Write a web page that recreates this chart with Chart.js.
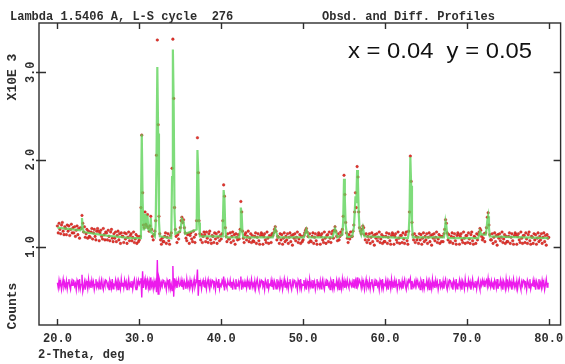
<!DOCTYPE html>
<html lang="en">
<head>
<meta charset="UTF-8">
<title>Obsd. and Diff. Profiles</title>
<script src="https://cdn.jsdelivr.net/npm/chart.js"></script>
<style>
    html, body { margin: 0; padding: 0; background: #fff; }
    #wrap { width: 565px; height: 364px; }
</style>
</head>
<body>
<div id="wrap"><canvas id="profileChart" width="565" height="364"></canvas></div>

<script>
    // 2-theta grid of the observed / difference points
    const thetaStart = 20.0;
    const thetaStep = 0.1;

    // observed counts (x10^3), one row per degree
    const obsCounts = [
        1.24,1.16,1.27,1.20,1.15,1.25,1.28,1.18,1.14,1.23,
        1.21,1.14,1.25,1.18,1.24,1.13,1.20,1.26,1.16,1.22,
        1.16,1.23,1.12,1.19,1.24,1.14,1.21,1.10,1.22,1.21,
        1.36,1.27,1.17,1.23,1.11,1.15,1.20,1.10,1.18,1.12,
        1.11,1.17,1.21,1.09,1.16,1.20,1.12,1.08,1.18,1.21,
        1.18,1.07,1.16,1.19,1.12,1.09,1.21,1.14,1.08,1.17,
        1.16,1.08,1.19,1.12,1.07,1.17,1.20,1.10,1.06,1.15,
        1.10,1.17,1.06,1.13,1.18,1.08,1.15,1.04,1.16,1.12,
        1.12,1.05,1.16,1.09,1.15,1.04,1.11,1.17,1.07,1.13,
        1.15,1.07,1.11,1.17,1.05,1.09,1.14,1.04,1.12,1.06,
        1.08,1.12,1.45,2.28,1.62,1.25,1.22,1.40,1.26,1.24,
        1.37,1.22,1.18,1.24,1.35,1.20,1.12,1.08,1.14,1.18,
        1.30,2.05,3.37,2.40,1.35,1.15,1.08,1.03,1.10,1.06,
        1.06,1.12,1.16,1.04,1.11,1.15,1.07,1.03,1.13,1.16,
        1.90,3.38,2.70,1.45,1.20,1.12,1.05,1.14,1.09,1.17,
        1.22,1.30,1.34,1.28,1.31,1.22,1.16,1.10,1.07,1.14,
        1.15,1.04,1.13,1.16,1.09,1.06,1.18,1.11,1.05,1.14,
        1.30,2.25,1.85,1.30,1.15,1.08,1.14,1.05,1.12,1.17,
        1.14,1.06,1.17,1.10,1.05,1.15,1.18,1.08,1.04,1.13,
        1.12,1.05,1.16,1.09,1.15,1.04,1.11,1.17,1.07,1.13,
        1.09,1.15,1.30,1.71,1.58,1.22,1.12,1.06,1.15,1.09,
        1.09,1.16,1.05,1.12,1.17,1.07,1.14,1.03,1.15,1.11,
        1.08,1.14,1.09,1.20,1.52,1.40,1.18,1.10,1.05,1.14,
        1.16,1.08,1.12,1.18,1.06,1.10,1.15,1.05,1.13,1.07,
        1.06,1.12,1.16,1.04,1.11,1.15,1.07,1.03,1.13,1.16,
        1.14,1.03,1.12,1.15,1.08,1.05,1.17,1.10,1.04,1.13,
        1.12,1.05,1.15,1.13,1.16,1.20,1.23,1.18,1.08,1.12,
        1.11,1.04,1.15,1.08,1.14,1.03,1.10,1.16,1.06,1.12,
        1.08,1.15,1.04,1.11,1.16,1.06,1.13,1.02,1.14,1.10,
        1.15,1.07,1.11,1.17,1.05,1.09,1.14,1.04,1.12,1.06,
        1.08,1.13,1.16,1.19,1.21,1.17,1.12,1.05,1.15,1.07,
        1.06,1.12,1.16,1.04,1.11,1.15,1.07,1.03,1.13,1.16,
        1.14,1.03,1.12,1.15,1.08,1.05,1.17,1.10,1.04,1.13,
        1.14,1.06,1.17,1.10,1.05,1.15,1.18,1.10,1.19,1.23,
        1.18,1.12,1.07,1.15,1.08,1.12,1.17,1.14,1.20,1.35,
        1.82,1.60,1.28,1.16,1.10,1.05,1.14,1.09,1.17,1.12,
        1.12,1.18,1.25,1.40,1.62,1.45,1.92,1.80,1.40,1.22,
        1.18,1.15,1.20,1.24,1.22,1.14,1.08,1.15,1.05,1.12,
        1.08,1.15,1.04,1.11,1.16,1.06,1.13,1.02,1.14,1.10,
        1.15,1.07,1.11,1.17,1.05,1.09,1.14,1.04,1.12,1.06,
        1.06,1.12,1.16,1.04,1.11,1.15,1.07,1.03,1.13,1.16,
        1.14,1.03,1.12,1.15,1.08,1.05,1.17,1.10,1.04,1.13,
        1.13,1.05,1.16,1.09,1.04,1.14,1.17,1.07,1.03,1.18,
        1.40,2.04,1.75,1.28,1.14,1.08,1.15,1.05,1.12,1.08,
        1.11,1.04,1.15,1.08,1.14,1.03,1.10,1.16,1.06,1.12,
        1.08,1.15,1.04,1.11,1.16,1.06,1.13,1.02,1.14,1.10,
        1.15,1.07,1.11,1.17,1.05,1.09,1.14,1.04,1.12,1.06,
        1.12,1.06,1.15,1.20,1.31,1.27,1.16,1.08,1.14,1.05,
        1.06,1.12,1.16,1.04,1.11,1.15,1.07,1.03,1.13,1.16,
        1.14,1.03,1.12,1.15,1.08,1.05,1.17,1.10,1.04,1.13,
        1.13,1.05,1.16,1.09,1.04,1.14,1.17,1.07,1.03,1.12,
        1.11,1.04,1.15,1.08,1.14,1.17,1.21,1.19,1.12,1.08,
        1.10,1.15,1.06,1.16,1.22,1.34,1.39,1.25,1.14,1.08,
        1.08,1.15,1.04,1.11,1.16,1.06,1.13,1.02,1.14,1.10,
        1.15,1.07,1.11,1.17,1.05,1.09,1.14,1.04,1.12,1.06,
        1.06,1.12,1.16,1.04,1.11,1.15,1.07,1.03,1.13,1.16,
        1.14,1.03,1.12,1.15,1.08,1.05,1.17,1.10,1.04,1.13,
        1.13,1.05,1.16,1.09,1.04,1.14,1.17,1.07,1.03,1.12,
        1.11,1.04,1.15,1.08,1.14,1.03,1.10,1.16,1.06,1.12,
        1.08,1.15,1.04,1.11,1.16,1.06,1.13,1.02,1.14,1.10,
        1.11
    ];

    // difference curve as plotted (x10^3), same grid
    const diffCounts = [
        .59,.53,.62,.56,.60,.51,.57,.63,.54,.58,
        .54,.61,.52,.59,.63,.55,.51,.60,.56,.62,
        .61,.55,.58,.51,.62,.59,.53,.63,.52,.57,
        .68,.49,.54,.60,.51,.61,.58,.52,.63,.55,
        .59,.53,.62,.56,.60,.51,.57,.63,.54,.58,
        .54,.61,.52,.59,.63,.55,.51,.60,.56,.62,
        .61,.55,.58,.51,.62,.59,.53,.63,.52,.57,
        .56,.62,.54,.60,.51,.61,.58,.52,.63,.55,
        .59,.53,.62,.56,.60,.51,.57,.63,.54,.58,
        .54,.61,.52,.59,.63,.55,.51,.60,.56,.62,
        .57,.60,.64,.42,.72,.53,.60,.64,.51,.57,
        .62,.53,.60,.50,.65,.55,.59,.52,.61,.56,
        .60,.48,.85,.46,.65,.61,.53,.59,.55,.62,
        .61,.55,.58,.51,.62,.59,.53,.63,.52,.57,
        .50,.78,.43,.64,.56,.61,.53,.59,.63,.55,
        .56,.62,.54,.60,.51,.61,.58,.52,.63,.55,
        .59,.53,.62,.56,.60,.51,.57,.63,.54,.58,
        .60,.74,.44,.62,.55,.60,.52,.59,.62,.55,
        .54,.61,.52,.59,.63,.55,.51,.60,.56,.62,
        .61,.55,.58,.51,.62,.59,.53,.63,.52,.57,
        .55,.61,.58,.66,.50,.60,.56,.53,.61,.57,
        .56,.62,.54,.60,.51,.61,.58,.52,.63,.55,
        .55,.60,.54,.61,.66,.51,.59,.55,.60,.54,
        .59,.53,.62,.56,.60,.51,.57,.63,.54,.58,
        .54,.61,.52,.59,.63,.55,.51,.60,.56,.62,
        .61,.55,.58,.51,.62,.59,.53,.63,.52,.57,
        .56,.62,.54,.60,.51,.61,.58,.52,.63,.55,
        .59,.53,.62,.56,.60,.51,.57,.63,.54,.58,
        .54,.61,.52,.59,.63,.55,.51,.60,.56,.62,
        .61,.55,.58,.51,.62,.59,.53,.63,.52,.57,
        .56,.62,.54,.60,.51,.61,.58,.52,.63,.55,
        .59,.53,.62,.56,.60,.51,.57,.63,.54,.58,
        .54,.61,.52,.59,.63,.55,.51,.60,.56,.62,
        .61,.55,.58,.51,.62,.59,.53,.63,.52,.57,
        .56,.62,.54,.60,.51,.61,.58,.52,.63,.55,
        .61,.53,.60,.55,.62,.56,.53,.61,.58,.55,
        .60,.54,.63,.56,.61,.52,.65,.55,.58,.62,
        .59,.53,.62,.56,.60,.51,.57,.63,.54,.58,
        .54,.61,.52,.59,.63,.55,.51,.60,.56,.62,
        .61,.55,.58,.51,.62,.59,.53,.63,.52,.57,
        .56,.62,.54,.60,.51,.61,.58,.52,.63,.55,
        .59,.53,.62,.56,.60,.51,.57,.63,.54,.58,
        .54,.61,.52,.59,.63,.55,.51,.60,.56,.62,
        .60,.64,.52,.61,.56,.54,.60,.55,.62,.57,
        .61,.55,.58,.51,.62,.59,.53,.63,.52,.57,
        .56,.62,.54,.60,.51,.61,.58,.52,.63,.55,
        .59,.53,.62,.56,.60,.51,.57,.63,.54,.58,
        .54,.61,.52,.59,.63,.55,.51,.60,.56,.62,
        .61,.55,.58,.51,.62,.59,.53,.63,.52,.57,
        .56,.62,.54,.60,.51,.61,.58,.52,.63,.55,
        .59,.53,.62,.56,.60,.51,.57,.63,.54,.58,
        .54,.61,.52,.59,.63,.55,.51,.60,.56,.62,
        .57,.61,.54,.60,.62,.55,.64,.56,.59,.54,
        .61,.55,.58,.51,.62,.59,.53,.63,.52,.57,
        .56,.62,.54,.60,.51,.61,.58,.52,.63,.55,
        .59,.53,.62,.56,.60,.51,.57,.63,.54,.58,
        .54,.61,.52,.59,.63,.55,.51,.60,.56,.62,
        .61,.55,.58,.51,.62,.59,.53,.63,.52,.57,
        .56,.62,.54,.60,.51,.61,.58,.52,.63,.55,
        .59,.53,.62,.56,.60,.51,.57,.63,.54,.58,
        .58
    ];

    // calculated profile [2-theta, counts x10^3]
    const calcProfile = [
        [20.0,1.22],[22.8,1.19],[22.9,1.21],[23.0,1.33],[23.1,1.22],[23.2,1.17],[26.0,1.13],[29.0,1.10],
        [30.1,1.10],[30.2,1.40],[30.3,2.29],[30.4,1.55],[30.5,1.20],[30.6,1.20],[30.7,1.38],[30.8,1.22],
        [30.9,1.22],[31.0,1.36],[31.1,1.20],[31.3,1.18],[31.4,1.33],[31.5,1.17],[31.9,1.12],[32.0,1.25],
        [32.1,2.00],[32.2,3.06],[32.3,2.30],[32.4,1.30],[32.5,1.12],[33.9,1.10],[34.0,1.80],[34.1,3.26],
        [34.2,2.60],[34.3,1.40],[34.4,1.15],[35.0,1.18],[35.2,1.32],[35.4,1.29],[35.6,1.15],[37.0,1.20],
        [37.1,2.11],[37.2,1.85],[37.3,1.28],[37.4,1.12],[40.1,1.12],[40.2,1.25],[40.3,1.65],[40.4,1.55],
        [40.5,1.20],[40.6,1.11],[42.2,1.11],[42.3,1.18],[42.4,1.45],[42.5,1.38],[42.6,1.16],[42.7,1.11],
        [46.3,1.11],[46.6,1.21],[46.9,1.11],[50.1,1.11],[50.4,1.20],[50.7,1.11],[53.6,1.11],[53.9,1.21],
        [54.2,1.11],[54.8,1.14],[54.9,1.30],[55.0,1.78],[55.1,1.55],[55.2,1.25],[55.4,1.11],[56.0,1.12],
        [56.2,1.22],[56.3,1.38],[56.4,1.58],[56.5,1.50],[56.6,1.88],[56.7,1.75],[56.8,1.38],[56.9,1.20],
        [57.1,1.14],[57.3,1.22],[57.5,1.12],[62.8,1.10],[62.9,1.16],[63.0,1.38],[63.1,2.03],[63.2,1.70],
        [63.3,1.25],[63.4,1.11],[67.2,1.11],[67.3,1.18],[67.4,1.29],[67.5,1.24],[67.6,1.14],[67.7,1.10],
        [71.4,1.10],[71.6,1.18],[71.8,1.14],[72.3,1.14],[72.4,1.20],[72.5,1.30],[72.6,1.35],[72.7,1.22],
        [72.8,1.12],[80.0,1.10]
    ];

    const xTicks = [20, 30, 40, 50, 60, 70, 80];
    const yTicks = [1, 2, 3];
    const xRange = [17.75, 81.45];
    const yRange = [0.105, 3.565];

    const mono = 'bold 12px "Liberation Mono", "DejaVu Sans Mono", monospace';
    const ink = '#2e2e2e';

    const gsasFrame = {
        id: 'gsasFrame',
        afterDraw(chart) {
            const ctx = chart.ctx;
            const a = chart.chartArea;
            const xs = chart.scales.x;
            const ys = chart.scales.y;

            ctx.save();
            ctx.strokeStyle = ink;
            ctx.lineWidth = 1.4;
            ctx.strokeRect(a.left, a.top, a.right - a.left, a.bottom - a.top);

            ctx.beginPath();
            xTicks.forEach(t => {
                const px = Math.round(xs.getPixelForValue(t)) + 0.5;
                ctx.moveTo(px, a.bottom); ctx.lineTo(px, a.bottom - 6);
                ctx.moveTo(px, a.top); ctx.lineTo(px, a.top + 6);
            });
            yTicks.forEach(t => {
                const py = Math.round(ys.getPixelForValue(t)) + 0.5;
                ctx.moveTo(a.left - 3, py); ctx.lineTo(a.left + 7, py);
                ctx.moveTo(a.right, py); ctx.lineTo(a.right - 7, py);
            });
            ctx.stroke();

            ctx.fillStyle = ink;
            ctx.font = mono;
            ctx.textAlign = 'center';
            ctx.textBaseline = 'middle';
            xTicks.forEach(t => {
                ctx.fillText(t.toFixed(1), xs.getPixelForValue(t), a.bottom + 14);
            });

            const rotated = (text, x, y) => {
                ctx.save();
                ctx.translate(x, y);
                ctx.rotate(-Math.PI / 2);
                ctx.fillText(text, 0, 0);
                ctx.restore();
            };
            yTicks.forEach(t => rotated(t.toFixed(1), 31, ys.getPixelForValue(t)));
            ctx.font = 'bold 13px "Liberation Mono", "DejaVu Sans Mono", monospace';
            rotated('X10E 3', 13, 77);
            rotated('Counts', 13, 306);

            ctx.font = mono;
            ctx.textAlign = 'left';
            ctx.textBaseline = 'alphabetic';
            ctx.fillText('Lambda 1.5406 A, L-S cycle  276', 10, 20);
            ctx.fillText('Obsd. and Diff. Profiles', 322, 20);
            ctx.fillText('2-Theta, deg', 38, 358);

            // composition label, stretched to the width it has in the figure
            const label = 'x = 0.04  y = 0.05';
            ctx.fillStyle = '#111';
            ctx.font = '22px "Liberation Sans", Arial, sans-serif';
            ctx.textBaseline = 'middle';
            const w = ctx.measureText(label).width;
            ctx.translate(348, 52);
            ctx.scale(184 / w, 1);
            ctx.fillText(label, 0, 0);
            ctx.restore();
        }
    };

    const ctx = document.getElementById('profileChart').getContext('2d');
    new Chart(ctx, {
        type: 'scatter',
        data: {
            datasets: [
                {
                    label: 'Obsd',
                    data: obsCounts.map((v, i) => ({ x: thetaStart + i * thetaStep, y: v })),
                    pointRadius: 1.3,
                    pointBackgroundColor: '#e8352b',
                    pointBorderColor: '#a81c1c',
                    pointBorderWidth: 0.4,
                    order: 2
                },
                {
                    label: 'Calc',
                    data: calcProfile.map(p => ({ x: p[0], y: p[1] })),
                    showLine: true,
                    borderColor: 'rgba(95, 211, 90, 0.8)',
                    borderWidth: 2.2,
                    pointRadius: 0,
                    order: 1
                },
                {
                    label: 'Diff',
                    data: diffCounts.map((v, i) => ({ x: thetaStart + i * thetaStep, y: v })),
                    showLine: true,
                    borderColor: '#ec1aec',
                    borderWidth: 1.4,
                    pointRadius: 0,
                    order: 3
                }
            ]
        },
        options: {
            responsive: false,
            animation: false,
            layout: { padding: { left: 39, top: 23, right: 3, bottom: 39 } },
            scales: {
                x: { type: 'linear', min: xRange[0], max: xRange[1], display: false },
                y: { type: 'linear', min: yRange[0], max: yRange[1], display: false }
            },
            plugins: {
                legend: { display: false },
                tooltip: { enabled: false }
            }
        },
        plugins: [gsasFrame]
    });
</script>
</body>
</html>
